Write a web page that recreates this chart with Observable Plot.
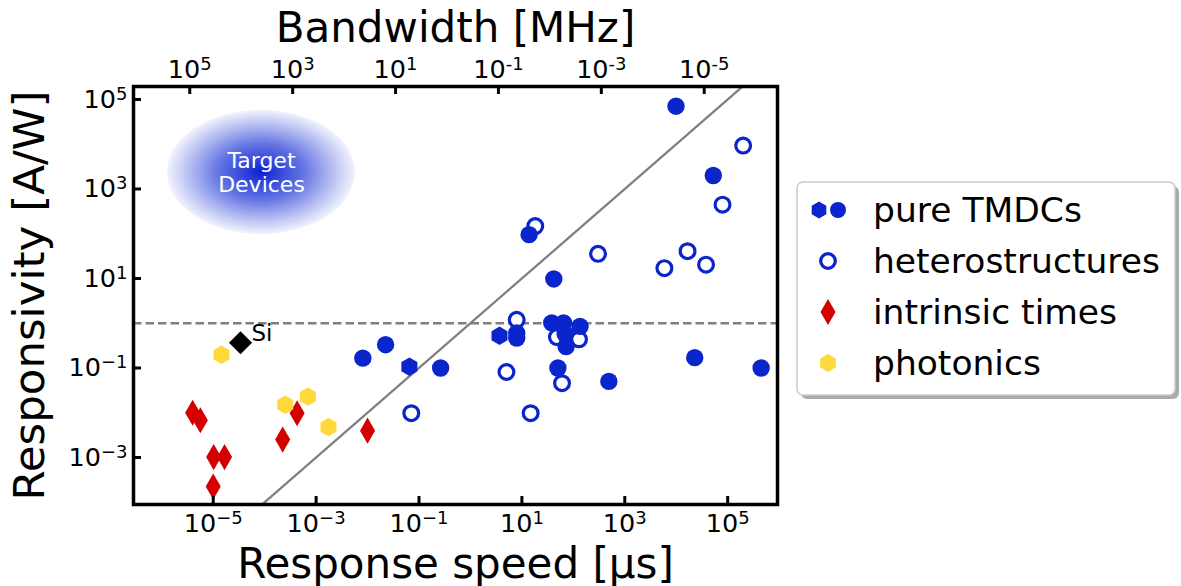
<!DOCTYPE html>
<html><head><meta charset="utf-8">
<script src="https://cdn.jsdelivr.net/npm/d3@7"></script>
<script src="https://cdn.jsdelivr.net/npm/@observablehq/plot@0.6"></script>
<style>
body{margin:0;background:#fff;}
#chart{position:relative;width:1181px;height:586px;}
</style></head><body><div id="chart"></div>
<script>
// ---- data: response speed [µs] and responsivity [A/W] ----
const tmdcHexX = [6.5e-2, 3.67];
const tmdcHexY = [0.107, 0.525];
const tmdcCircX = [8.1e-3, 2.24e-2, 0.263, 7.94, 7.94, 38.0, 64.6, 69.2, 72.4, 135, 50.1, 490, 22900, 447000, 9900, 52500, 13.8, 41.7];
const tmdcCircY = [0.166, 0.331, 0.1, 0.603, 0.468, 1.02, 1.02, 0.575, 0.302, 0.851, 0.1, 0.0501, 0.170, 0.1, 70800, 2000, 95.5, 9.77];
const heteroX = [0.0708, 7.94, 5.01, 14.8, 47.9, 129, 60.3, 200000, 79400, 18.2, 302, 5890, 16600, 38000];
const heteroY = [0.00977, 1.19, 0.0813, 0.00977, 0.490, 0.437, 0.0457, 9330, 447, 148, 35.5, 17.0, 40.7, 20.4];
const intrinsicX = [3.98e-6, 5.62e-6, 1.02e-5, 1.66e-5, 1.0e-5, 2.24e-4, 4.27e-4, 0.01];
const intrinsicY = [0.01, 6.76e-3, 1.02e-3, 1.02e-3, 2.24e-4, 2.51e-3, 9.77e-3, 3.98e-3];
const photonicsX = [1.45e-5, 2.51e-4, 6.92e-4, 1.74e-3];
const photonicsY = [0.197, 0.0151, 0.0229, 4.79e-3];
const siX = [3.39e-5];
const siY = [0.366];
const siLabel = ["Si"];
const targetX = [8.67e-5];
const targetY = [2340];
const targetLabel = ["Target\nDevices"];
const refLevel = [1];                 // dashed line, 1 A/W
const speedTicks = [1e-5, 1e-3, 1e-1, 1e1, 1e3, 1e5];
const respTicks = [1e-3, 1e-1, 1e1, 1e3, 1e5];
const bwTicks = [1e5, 1e3, 1e1, 1e-1, 1e-3, 1e-5];
const bwFactor = 0.35;                // bandwidth [MHz] = 0.35 / t [µs]
const legendLabels = ["pure TMDCs", "heterostructures", "intrinsic times", "photonics"];
const xTitle = "Response speed [µs]";
const yTitle = "Responsivity [A/W]";
const topTitle = "Bandwidth [MHz]";
const xDomain = [2.82e-7, 9.3e5];
const yDomain = [8.9e-5, 1.95e5];

// ---- styling / layout ----
const W = 1181, H = 586, mL = 133, mR = 404, mT = 86, mB = 82;
const fw = W - mL - mR, fh = H - mT - mB;
const blue = "#0b25cc", red = "#d40000", yellow = "#ffd93b", gray = "#808080";
const font = "DejaVu Sans";
const pts = (xs, ys) => xs.map((x, i) => ({x, y: ys[i]}));
const fmt = (v, minus) => { const e = Math.round(Math.log10(v)); return "10^" + (e < 0 ? minus : "") + Math.abs(e); };

function targetMark(index, scales) {
  const g = d3.create("svg:g");
  const grad = g.append("defs").append("radialGradient").attr("id", "tgGrad");
  grad.append("stop").attr("offset", "0%").attr("stop-color", "#0a1fd2").attr("stop-opacity", 1);
  grad.append("stop").attr("offset", "45%").attr("stop-color", "#2e45d8").attr("stop-opacity", 0.75);
  grad.append("stop").attr("offset", "100%").attr("stop-color", "#3a50dd").attr("stop-opacity", 0.07);
  g.append("ellipse").attr("cx", scales.x(targetX[0])).attr("cy", scales.y(targetY[0]))
    .attr("rx", 94).attr("ry", 62).attr("fill", "url(#tgGrad)");
  return g.node();
}

const plot = Plot.plot({
  width: W, height: H,
  marginLeft: mL, marginRight: mR, marginTop: mT, marginBottom: mB,
  style: {fontFamily: font, background: "white", overflow: "visible"},
  x: {type: "log", domain: xDomain},
  y: {type: "log", domain: yDomain},
  marks: [
    targetMark,
    Plot.text(pts(targetX, targetY), {x: "x", y: "y", text: () => targetLabel[0], fill: "white",
      fontSize: 22, lineHeight: 1.1, lineAnchor: "middle"}),
    Plot.ruleY(refLevel, {stroke: gray, strokeWidth: 2.5, strokeDasharray: "8.5,4"}),
    Plot.line([xDomain[0], xDomain[1]], {x: d => d, y: d => d, stroke: gray, strokeWidth: 2.3, clip: true}),
    Plot.dot(pts(heteroX, heteroY), {x: "x", y: "y", r: 7.4, stroke: blue, strokeWidth: 3.2, fill: "white"}),
    Plot.dot(pts(tmdcHexX, tmdcHexY), {x: "x", y: "y", symbol: "hexagon", r: 8, fill: blue}),
    Plot.dot(pts(tmdcCircX, tmdcCircY), {x: "x", y: "y", r: 8.7, fill: blue}),
    Plot.dot(pts(intrinsicX, intrinsicY), {x: "x", y: "y", symbol: "diamond", r: 7.9, fill: red}),
    Plot.dot(pts(photonicsX, photonicsY), {x: "x", y: "y", symbol: "hexagon", r: 8, fill: yellow}),
    Plot.dot(pts(siX, siY), {x: "x", y: "y", symbol: "diamond2", r: 10.4, fill: "black"}),
    Plot.text(pts(siX, siY), {x: "x", y: "y", text: () => siLabel[0], textAnchor: "start", dx: 11, dy: -9,
      fontSize: 23, fill: "black"}),
    // inward ticks
    Plot.tickX(speedTicks, {x: d => d, stroke: "black", strokeWidth: 3, insetTop: fh - 8}),
    Plot.tickX(bwTicks.map(f => bwFactor / f), {x: d => d, stroke: "black", strokeWidth: 3, insetBottom: fh - 8}),
    Plot.tickY(respTicks, {y: d => d, stroke: "black", strokeWidth: 3, insetRight: fw - 8}),
    // tick labels
    Plot.axisX({anchor: "bottom", ticks: speedTicks, tickSize: 0, tickPadding: 9, fontSize: 25.5,
      tickFormat: v => fmt(v, "\u2212"), label: null}),
    Plot.axisX({anchor: "top", ticks: bwTicks.map(f => bwFactor / f), tickSize: 0, tickPadding: 9, fontSize: 25.5,
      tickFormat: v => fmt(bwFactor / v, "-"), label: null}),
    Plot.axisY({anchor: "left", ticks: respTicks, tickSize: 0, tickPadding: 6, fontSize: 25.5,
      tickFormat: v => fmt(v, "\u2212"), label: null}),
    Plot.frame({stroke: "black", strokeWidth: 3.5}),
    // titles
    Plot.text([xTitle], {frameAnchor: "bottom", text: d => d, dy: 73, lineAnchor: "bottom", fontSize: 42, fill: "black"}),
    Plot.text([topTitle], {frameAnchor: "top", text: d => d, dy: -45, lineAnchor: "bottom", fontSize: 42, fill: "black"}),
    Plot.text([yTitle], {frameAnchor: "left", text: d => d, dx: -103, rotate: -90, textAnchor: "middle",
      lineAnchor: "middle", fontSize: 43.5, fill: "black"})
  ]
});

// superscript exponents
d3.select(plot).selectAll("text").each(function () {
  if (this.querySelector("tspan")) return;
  const m = /^10\^(.+)$/.exec(this.textContent);
  if (!m) return;
  this.textContent = "10";
  d3.select(this).append("tspan").attr("dy", -8).attr("font-size", 18).text(m[1]);
});

// legend
const hexPath = rx => { const ry = rx * 2 / Math.sqrt(3), hy = ry / 2;
  return `M0,${ry}L${rx},${hy}L${rx},${-hy}L0,${-ry}L${-rx},${-hy}L${-rx},${hy}Z`; };
const svg = d3.select(plot);
const lgX = 797, lgY = 182, lgW = 378, lgH = 213;
const lg = svg.append("g").attr("transform", `translate(${lgX},${lgY})`).attr("font-family", font).attr("text-anchor", "start");
lg.append("rect").attr("x", 4).attr("y", 4).attr("width", lgW).attr("height", lgH).attr("rx", 6).attr("fill", "#aaaaaa");
lg.append("rect").attr("width", lgW).attr("height", lgH).attr("rx", 6).attr("fill", "white").attr("stroke", "#cccccc").attr("stroke-width", 1.5);
legendLabels.forEach((lab, i) => {
  const cy = 28 + i * 51;
  const row = lg.append("g").attr("transform", `translate(0,${cy})`);
  if (i === 0) {
    row.append("path").attr("d", hexPath(7.3)).attr("transform", "translate(22,0)").attr("fill", blue);
    row.append("circle").attr("cx", 41).attr("r", 8).attr("fill", blue);
  } else if (i === 1) {
    row.append("circle").attr("cx", 31).attr("r", 7.3).attr("fill", "white").attr("stroke", blue).attr("stroke-width", 3.3);
  } else if (i === 2) {
    row.append("path").attr("d", d3.symbol(d3.symbolDiamond, 195)()).attr("transform", "translate(31,0)").attr("fill", red);
  } else {
    row.append("path").attr("d", hexPath(7.8)).attr("transform", "translate(31,0)").attr("fill", yellow);
  }
  row.append("text").attr("x", 76).attr("y", 12).attr("font-size", 34.5).attr("fill", "black").text(lab);
});

document.getElementById("chart").appendChild(plot);
</script>
</body></html>
